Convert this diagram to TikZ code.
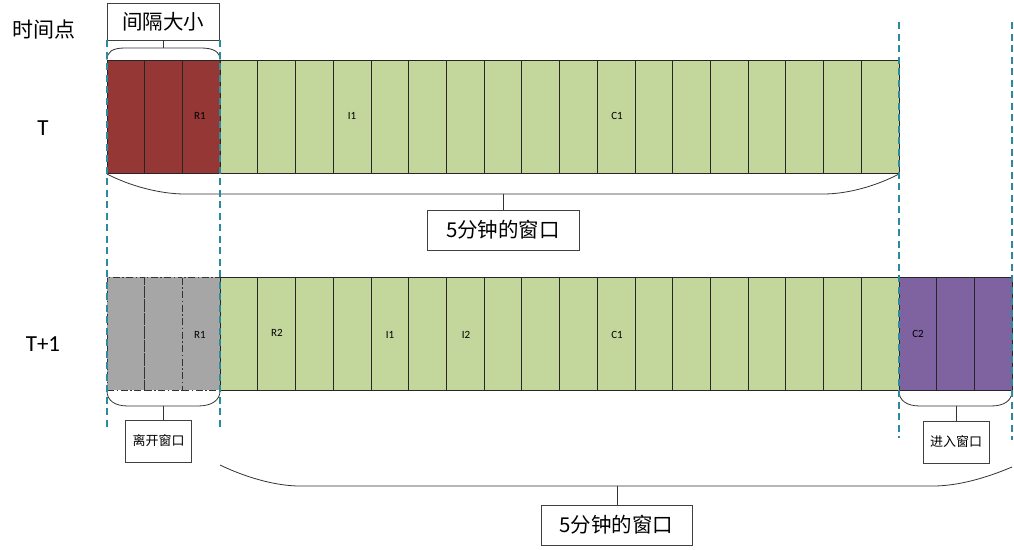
\documentclass[tikz,border=0pt]{standalone}
\usepackage{fontspec}
\setmainfont{Carlito}
\newfontfamily\cjk{Noto Sans CJK SC}
\definecolor{cred}{HTML}{953735}
\definecolor{cgreen}{HTML}{C3D69B}
\definecolor{cgray}{HTML}{A6A6A6}
\definecolor{cpurple}{HTML}{7F63A0}
\definecolor{cteal}{HTML}{2C8A9F}
\tikzset{
  cell/.style={draw=black!85, line width=0.8pt, minimum width=37.714pt, minimum height=113pt, inner sep=0pt},
  graycell/.style={cell, fill=cgray, draw=black!80, dash pattern=on 7pt off 2.5pt on 1.5pt off 2.5pt},
  lab/.style={font=\fontsize{11}{11}\selectfont, inner sep=0pt},
  bigbox/.style={draw=black!75, line width=0.8pt, fill=white, inner sep=0pt, font=\cjk\fontsize{20.5}{20.5}\selectfont},
  smallbox/.style={draw=black!75, line width=0.8pt, fill=white, inner sep=0pt, font=\cjk\fontsize{13}{13}\selectfont},
  guide/.style={draw=cteal, line width=1.25pt, dash pattern=on 7pt off 4.5pt},
  brace/.style={draw=black!80, line width=0.8pt},
  rowlab/.style={font=\fontsize{23}{23}\selectfont, inner sep=0pt}
}
\begin{document}
\begin{tikzpicture}[x=1pt,y=-1pt]
\useasboundingbox (0,0) rectangle (1014,549);
% row labels
\node[font=\cjk\fontsize{21}{21}\selectfont, inner sep=0pt] (hdr) at (44,30) {时间点};
\node[rowlab] (rowT) at (43,128) {T};
\node[rowlab] (rowT1) at (43,344) {T+1};
% top row
\foreach \i in {1,...,3}
  \node[cell, fill=cred] (t\i) at ({107+(\i-0.5)*37.714},116.5) {};
\foreach \i in {4,...,21}
  \node[cell, fill=cgreen] (t\i) at ({107+(\i-0.5)*37.714},116.5) {};
\node[lab] (tR1) at (200,116) {R1};
\node[lab] (tI1) at (352,116) {I1};
\node[lab] (tC1) at (617,116) {C1};
% bottom row
\foreach \i in {1,...,3}
  \node[graycell] (b\i) at ({107+(\i-0.5)*37.714},333.5) {};
\foreach \i in {4,...,21}
  \node[cell, fill=cgreen] (b\i) at ({107+(\i-0.5)*37.714},333.5) {};
\foreach \i in {22,...,24}
  \node[cell, fill=cpurple] (b\i) at ({107+(\i-0.5)*37.714},333.5) {};
\node[lab] (bR1) at (200,335) {R1};
\node[lab] (bR2) at (277,333) {R2};
\node[lab] (bI1) at (390,335) {I1};
\node[lab] (bI2) at (466,335) {I2};
\node[lab] (bC1) at (617,335) {C1};
\node[lab] (bC2) at (918,334) {C2};
% boxes
\node[bigbox, minimum width=112pt, minimum height=37pt] (gap) at (163,21.5) {间隔大小};
\node[bigbox, minimum width=152pt, minimum height=40pt] (win1) at (503,230) {5分钟的窗口};
\node[bigbox, minimum width=151pt, minimum height=40pt] (win2) at (616.5,525) {5分钟的窗口};
\node[smallbox, minimum width=66pt, minimum height=42pt] (leave) at (158.5,441) {离开窗口};
\node[smallbox, minimum width=66pt, minimum height=42pt] (enter) at (956,442) {进入窗口};
% brace above top red cells
\coordinate (bt1) at (163,48);
\draw[brace] (107,60) .. controls (107,52) and (112,48) .. (125,48) -- (201,48) .. controls (214,48) and (220,52) .. (220,60);
\draw[brace] (bt1) -- (bt1 |- gap.south);
% brace below top row
\coordinate (bt2) at (503,194);
\draw[brace] (107,174) .. controls (130,186) and (160,194) .. (185,194) -- (823,194) .. controls (848,194) and (876,186) .. (899,174);
\draw[brace] (bt2) -- (win1.north);
% brace below gray
\coordinate (bt3) at (163,406);
\draw[brace] (107,391) .. controls (107,400) and (114,406) .. (128,406) -- (198,406) .. controls (212,406) and (220,400) .. (220,391);
\draw[brace] (bt3) -- (bt3 |- leave.north);
% brace below purple
\coordinate (bt4) at (956,406);
\draw[brace] (899,391) .. controls (899,400) and (906,406) .. (920,406) -- (991,406) .. controls (1005,406) and (1012,400) .. (1012,391);
\draw[brace] (bt4) -- (bt4 |- enter.north);
% big brace
\coordinate (bt5) at (617,486);
\draw[brace] (220,465) .. controls (245,477) and (275,486) .. (300,486) -- (933,486) .. controls (958,486) and (986,478) .. (1012,467);
\draw[brace] (bt5) -- (bt5 |- win2.north);
% guides (on top)
\coordinate (g1a) at (107,40); \coordinate (g1b) at (107,430);
\coordinate (g2a) at (220.1,40); \coordinate (g2b) at (220.1,430);
\coordinate (g3a) at (899,22); \coordinate (g3b) at (899,438);
\coordinate (g4a) at (1012,22); \coordinate (g4b) at (1012,440);
\draw[guide] (g1a) -- (g1b);
\draw[guide] (g2a) -- (g2b);
\draw[guide] (g3a) -- (g3b);
\draw[guide] (g4a) -- (g4b);
\end{tikzpicture}
\end{document}
